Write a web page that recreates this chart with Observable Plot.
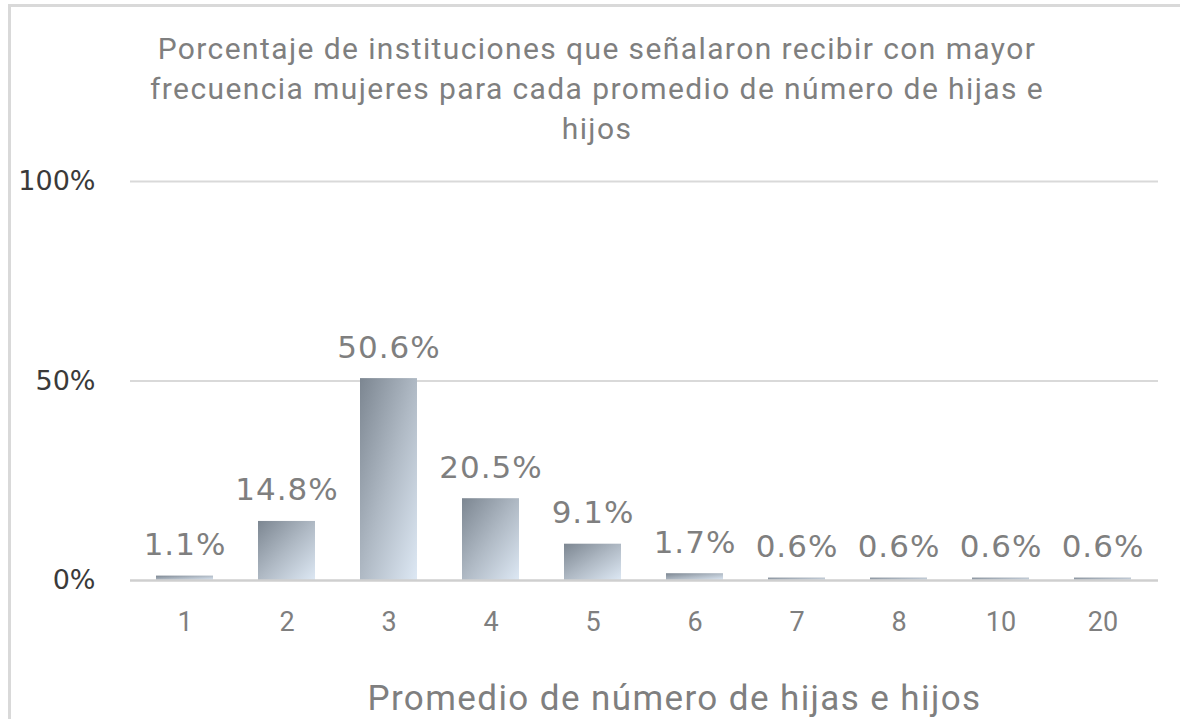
<!DOCTYPE html>
<html>
<head>
<meta charset="utf-8">
<script src="https://cdn.jsdelivr.net/npm/d3@7"></script>
<script src="https://cdn.jsdelivr.net/npm/@observablehq/plot@0.6"></script>
<style>
  html, body { margin: 0; padding: 0; background: #fff; }
  body { width: 1180px; height: 719px; overflow: hidden; position: relative; font-family: Roboto, "Open Sans", sans-serif; }
  #frame { position: absolute; left: 8px; top: 4px; width: 1200px; height: 760px; border-left: 3px solid #d9d9d9; border-top: 3px solid #d9d9d9; }
  #title { position: absolute; left: 0; width: 1194px; top: 29px; text-align: center; color: #7f7f7f; font-size: 30px; letter-spacing: 1.4px; line-height: 40px; }
  #chart { position: absolute; left: 0; top: 150px; }
</style>
</head>
<body>
<div id="frame"></div>
<div id="title">Porcentaje de instituciones que señalaron recibir con mayor<br>frecuencia mujeres para cada promedio de número de hijas e<br>hijos</div>
<div id="chart"></div>
<script>
const categories = ["1", "2", "3", "4", "5", "6", "7", "8", "10", "20"];
const values = [0.011, 0.148, 0.506, 0.205, 0.091, 0.017, 0.006, 0.006, 0.006, 0.006];
const yTicks = [0, 0.5, 1];
const xTitle = "Promedio de número de hijas e hijos";

const data = categories.map((c, i) => ({cat: c, value: values[i]}));
const pct = d3.format(".1%");

const chart = Plot.plot({
  width: 1180,
  height: 569,
  marginTop: 31,
  marginBottom: 139,
  marginLeft: 130,
  marginRight: 22,
  style: {fontFamily: "Roboto, 'Open Sans', sans-serif", color: "#7f7f7f", background: "transparent", overflow: "visible"},
  x: {domain: categories, paddingInner: 0.44, paddingOuter: 0.22, label: null},
  y: {domain: [0, 1], label: null},
  marks: [
    Plot.ruleY(yTicks.filter(t => t > 0), {stroke: "#d9d9d9", strokeWidth: 2}),
    Plot.barY(data, {x: "cat", y: "value", fill: "url(#barGrad)"}),
    Plot.ruleY([0], {stroke: "#cfcfcf", strokeWidth: 2.5}),
    Plot.text(data, {x: "cat", y: "value", text: d => pct(d.value), lineAnchor: "bottom", dy: -21, fontSize: 31, fontFamily: "'DejaVu Sans', sans-serif", fill: "#7f7f7f"}),
    Plot.axisY({ticks: yTicks, tickFormat: d3.format(".0%"), tickSize: 0, tickPadding: 35, fontSize: 27, color: "#3a3a3a", label: null}),
    Plot.axisX({tickSize: 0, tickPadding: 31, fontSize: 27, color: "#7f7f7f", label: null}),
    Plot.text([xTitle], {frameAnchor: "bottom", lineAnchor: "middle", dy: 118, dx: 30, fontSize: 35, fill: "#7f7f7f"})
  ]
});

const svg = d3.select(chart);
const defs = svg.insert("defs", ":first-child");
const g = defs.append("linearGradient").attr("id", "barGrad")
  .attr("x1", "0").attr("y1", "0").attr("x2", "1").attr("y2", "1");
g.append("stop").attr("offset", "0%").attr("stop-color", "#7c8691");
g.append("stop").attr("offset", "50%").attr("stop-color", "#afb9c4");
g.append("stop").attr("offset", "100%").attr("stop-color", "#dde8f4");

svg.selectAll("text").each(function() {
  const t = this.textContent;
  const el = d3.select(this);
  if (t.includes("%")) {
    el.style("font-family", "'DejaVu Sans', sans-serif");
    if (yTicks.map(d3.format(".0%")).includes(t)) el.style("font-size", "27px");
    else el.style("letter-spacing", "1px");
  }
  if (t === xTitle) el.style("letter-spacing", "1.4px");
});

document.getElementById("chart").appendChild(chart);
</script>
</body>
</html>
